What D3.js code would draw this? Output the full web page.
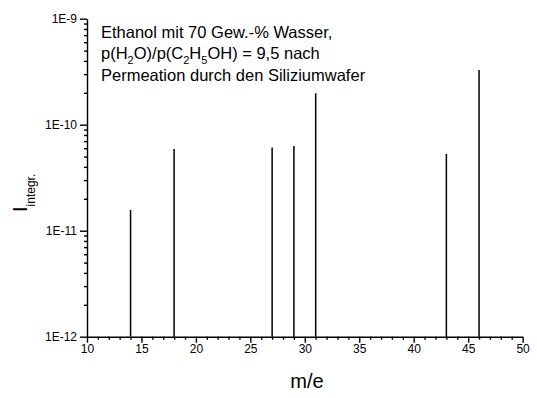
<!DOCTYPE html>
<html>
<head>
<meta charset="utf-8">
<script src="https://cdn.jsdelivr.net/npm/d3@7"></script>
<style>
  body { margin: 0; background: #fff; }
  svg { display: block; font-family: "Liberation Sans", Arial, sans-serif; }
</style>
</head>
<body>
<div id="chart"></div>
<script>
// Peaks (m/e) and integrated intensities
const massNumbers = [14, 18, 27, 29, 31, 43, 46];
const intensities = [1.57e-11, 5.9e-11, 6.1e-11, 6.3e-11, 1.98e-10, 5.3e-11, 3.28e-10];

// Tick labels
const xMajorTicks = [10, 15, 20, 25, 30, 35, 40, 45, 50];
const yMajorTicks = [1e-12, 1e-11, 1e-10, 1e-9];
const yTickLabels = ["1E-12", "1E-11", "1E-10", "1E-9"];

const width = 537, height = 398;

const svg = d3.select("#chart")
    .append("svg")
    .attr("width", width)
    .attr("height", height);

// Scales
const x = d3.scaleLinear().domain([10, 50]).range([87, 522.6]);
const y = d3.scaleLog().domain([1e-12, 1e-9]).range([336.7, 18.7]);

// Minor ticks
const xMinor = d3.range(10, 51).filter(v => v % 5 !== 0);
const yMinor = [];
[1e-12, 1e-11, 1e-10].forEach(d => {
    for (let k = 2; k <= 9; k++) yMinor.push(k * d);
});

// X axis
const xAxisG = svg.append("g")
    .attr("transform", `translate(0,${y(1e-12)})`);
xAxisG.append("g")
    .call(d3.axisBottom(x).tickValues(xMinor).tickSize(3).tickFormat(""))
    .call(g => g.select(".domain").remove());
xAxisG.append("g")
    .call(d3.axisBottom(x).tickValues(xMajorTicks).tickSize(6).tickSizeOuter(0).tickPadding(2))
    .call(g => g.selectAll("text").attr("font-size", 12).attr("font-family", "Liberation Sans, Arial, sans-serif"));

// Y axis
const yAxisG = svg.append("g")
    .attr("transform", `translate(${x(10)},0)`);
yAxisG.append("g")
    .call(d3.axisLeft(y).tickValues(yMinor).tickSize(3).tickFormat(""))
    .call(g => g.select(".domain").remove());
yAxisG.append("g")
    .call(d3.axisLeft(y).tickValues(yMajorTicks).tickSize(7).tickSizeOuter(0).tickPadding(3)
        .tickFormat((d, i) => yTickLabels[i]))
    .call(g => g.selectAll("text").attr("font-size", 12).attr("font-family", "Liberation Sans, Arial, sans-serif"));

svg.selectAll(".domain, .tick line").attr("stroke", "#000").attr("stroke-width", 1.4);

// Peaks as vertical lines
svg.append("g")
    .selectAll("line")
    .data(massNumbers)
    .enter()
    .append("line")
    .attr("x1", d => x(d))
    .attr("x2", d => x(d))
    .attr("y1", y(1e-12))
    .attr("y2", (d, i) => y(intensities[i]))
    .attr("stroke", "#000")
    .attr("stroke-width", 1.5);

// Axis titles
svg.append("text")
    .attr("x", 307)
    .attr("y", 388)
    .attr("text-anchor", "middle")
    .attr("font-size", 20)
    .text("m/e");

const yTitle = svg.append("text")
    .attr("transform", "translate(27,212) rotate(-90)")
    .attr("font-size", 20);
yTitle.append("tspan").text("I");
yTitle.append("tspan").attr("font-size", 12).attr("dy", 8).text("integr.");

// Annotation
const note = svg.append("g").attr("font-size", 16.5);
note.append("text").attr("x", 101).attr("y", 38).text("Ethanol mit 70 Gew.-% Wasser,");
const line2 = note.append("text").attr("x", 101).attr("y", 59);
[["p(H", 0], ["2", 1], ["O)/p(C", 0], ["2", 1], ["H", 0], ["5", 1], ["OH) = 9,5 nach", 0]].forEach(([t, sub], i, arr) => {
    const prevSub = i > 0 ? arr[i - 1][1] : 0;
    line2.append("tspan")
        .attr("font-size", sub ? 11 : 16.5)
        .attr("dy", sub && !prevSub ? 5 : (!sub && prevSub ? -5 : 0))
        .text(t);
});
note.append("text").attr("x", 101).attr("y", 81).text("Permeation durch den Siliziumwafer");
</script>
</body>
</html>
